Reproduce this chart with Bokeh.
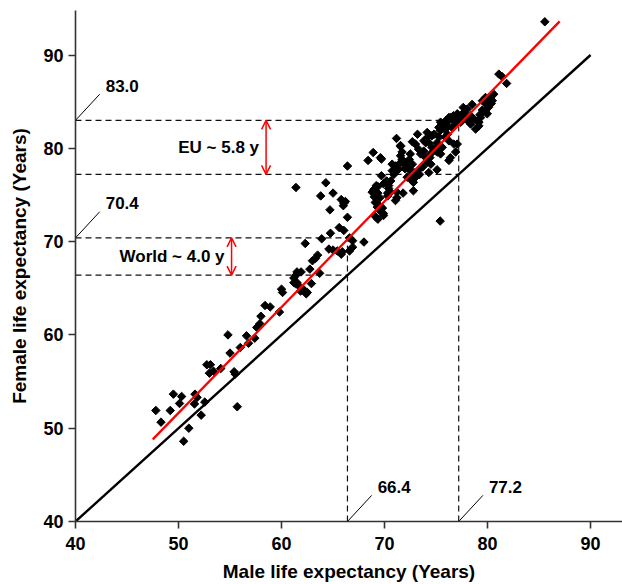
import numpy as np
from bokeh.plotting import figure
from bokeh.models import Range1d, Arrow, OpenHead, FixedTicker
from bokeh.embed import file_html
from bokeh.resources import INLINE
from bokeh.core.properties import value

# ---- data ----
male = [47.8, 48.3, 49.2, 49.5, 50.1, 50.3, 51.0, 50.5, 51.6, 51.55, 51.8, 52.2, 52.55, 52.75, 53.1,
        53.0, 53.4, 54.1, 54.8, 55.0, 55.4, 55.5, 55.7, 56.0, 56.6, 56.8, 57.4, 57.6, 57.9, 58.0,
        58.4, 58.9, 59.8, 60.0, 60.1,
        61.2, 61.5, 61.4, 61.7, 61.85, 62.2, 62.5, 62.9, 61.9, 61.5, 61.4, 61.2, 62.75, 63.5, 63.3,
        63.0, 62.3, 63.9, 64.75, 65.6, 66.4, 64.6, 65.0, 65.9, 65.8, 66.6, 66.6, 66.9, 68.0, 64.7,
        66.05, 66.2, 66.0, 65.8, 65.0, 63.8, 64.3, 61.4, 66.4, 63.7, 65.4, 66.9, 66.05, 62.4,
        68.4, 68.9, 69.7, 68.8, 69.0, 69.35, 69.1, 69.3, 69.55, 69.1, 69.35, 69.9, 69.7, 70.2, 70.4,
        70.6, 70.3, 71.06, 71.2, 71.8, 72.8, 70.74, 71.06, 71.4, 71.2, 71.7, 72.1, 72.4, 72.0, 72.5,
        72.8, 73.0, 72.8, 71.7, 71.55, 68.97, 69.2, 69.35, 69.55, 69.45, 69.8, 69.9, 70.3, 70.4, 69.9,
        70.6, 71.2, 70.9, 70.75, 71.1, 71.4, 71.95, 72.2, 72.85, 72.7, 72.2, 71.55, 72.7, 73.0, 73.3,
        73.5, 73.8, 74.0, 74.2, 73.2, 71.16, 74.14, 74.6, 75.1, 75.3, 74.8, 75.4, 75.8, 76.0, 76.15,
        76.4, 76.7, 77.06, 77.4, 77.8, 76.9, 76.6, 75.9, 75.6, 75.1, 74.4, 74.15, 73.7, 73.3, 72.7,
        72.4, 72.5, 73.4, 74.3, 75.1, 74.5, 76.25, 76.4, 76.9, 77.06, 75.4, 71.55, 69.6,
        81.1, 81.85, 80.6, 80.3, 79.97, 80.36, 80.1, 79.8, 79.97, 79.5, 79.33, 79.16, 79.0, 78.68, 78.35,
        78.5, 78.03, 77.64, 77.7, 77.22, 76.57, 76.25, 75.93, 75.6, 75.44, 75.28, 76.1, 76.57, 77.4, 78.03,
        78.35, 79.26, 79.9, 79.5, 80.46, 79.8, 74.6, 73.82, 74.3, 74.96, 74.47, 74.0, 75.44, 76.25, 76.74,
        76.1, 85.56, 78.84, 79.16, 81.4]
female = [51.9, 50.65, 51.9, 53.65, 52.65, 53.4, 50.0, 48.6, 53.65, 52.6, 53.3, 51.4, 52.8, 56.8, 56.8,
          55.9, 56.1, 56.4, 60.0, 58.05, 56.05, 55.8, 52.3, 58.65, 59.9, 59.1, 59.65, 60.8, 61.2, 62.0,
          63.15, 63.0, 62.45, 64.9, 64.55,
          65.6, 65.6, 65.45, 65.25, 64.7, 64.8, 64.55, 65.5, 66.75, 66.75, 66.4, 66.1, 67.05, 68.55, 68.2,
          67.95, 69.8, 70.3, 70.9, 71.5, 72.6, 69.2, 69.1, 68.9, 68.65, 69.0, 70.4, 70.1, 69.95, 73.4,
          74.1, 74.3, 73.85, 74.5, 75.2, 74.9, 76.3, 75.8, 78.1, 66.6, 69.0, 69.4, 71.2, 64.4,
          78.7, 79.55, 78.85, 75.3, 74.8, 75.9, 74.2, 73.7, 73.3, 72.7, 72.4, 73.0, 77.06, 76.5, 76.0,
          75.3, 74.9, 74.4, 75.3, 75.2, 75.45, 78.3, 78.1, 78.3, 77.6, 78.8, 78.5, 78.1, 77.8, 77.6,
          77.2, 76.9, 76.35, 79.6, 79.2, 75.6, 76.0, 75.2, 74.7, 73.9, 73.6, 72.8, 75.2, 75.7, 76.2,
          76.5, 74.7, 77.2, 77.6, 77.95, 77.8, 78.3, 77.95, 77.4, 76.5, 76.9, 80.3, 80.7, 80.45, 79.9,
          79.4, 79.7, 80.6, 81.2, 81.5, 81.06, 81.7, 80.1, 80.6, 81.2, 81.5, 81.9, 82.1, 82.6, 82.95,
          83.3, 83.5, 83.7, 83.3, 83.5, 82.8, 82.2, 81.2, 80.1, 79.6, 79.0, 78.5, 78.0, 77.7, 78.3,
          78.8, 79.4, 77.2, 77.4, 77.7, 78.3, 78.7, 79.0, 79.6, 80.45, 72.2, 80.2, 79.0,
          87.95, 86.95, 85.8, 85.4, 85.0, 84.8, 84.4, 84.0, 83.7, 84.1, 83.3, 82.8, 82.95, 83.1, 83.5,
          84.7, 84.2, 84.38, 83.85, 83.3, 83.1, 83.3, 82.95, 82.6, 82.8, 82.24, 82.24, 82.24, 82.8, 83.0,
          82.6, 83.6, 84.7, 85.1, 85.1, 85.45, 81.35, 80.8, 80.6, 79.9, 79.4, 79.0, 79.4, 80.8, 80.45,
          81.5, 93.56, 82.06, 82.4, 87.7]

fit_x = [47.5, 87.0]
fit_y = [48.8, 93.6]
equal_x = [40, 90]
equal_y = [40, 90]

female_eu = 83.0
male_eu = 77.2
female_world = 70.4
male_world = 66.4
eu_arrow_x = 58.5
world_arrow_x = 55.15
ticks = [40, 50, 60, 70, 80, 90]

FONT = value("Liberation Sans")

p = figure(width=622, height=584, x_range=Range1d(40, 93.1), y_range=Range1d(40, 94.77),
           output_backend="svg", toolbar_location=None,
           min_border_left=75, min_border_right=0, min_border_top=10, min_border_bottom=63)
p.grid.visible = False
p.outline_line_color = None
p.background_fill_color = "white"
p.border_fill_color = "white"

for ax in (p.xaxis[0], p.yaxis[0]):
    ax.ticker = FixedTicker(ticks=ticks)
    ax.major_tick_out = 7
    ax.major_tick_in = 0
    ax.minor_tick_out = 0
    ax.minor_tick_in = 0
    ax.axis_line_width = 1.6
    ax.axis_line_color = "#333333"
    ax.major_tick_line_width = 1.6
    ax.major_tick_line_color = "#333333"
    ax.major_label_text_font = "Liberation Sans"
    ax.major_label_text_font_style = "bold"
    ax.major_label_text_font_size = "18px"
    ax.major_label_text_color = "black"
    ax.axis_label_text_font = "Liberation Sans"
    ax.axis_label_text_font_style = "bold"
    ax.axis_label_text_font_size = "19px"
    ax.axis_label_text_color = "black"

p.xaxis.major_label_standoff = 8
p.yaxis.major_label_standoff = 5
p.xaxis.axis_label = "Male life expectancy (Years)"
p.yaxis.axis_label = "Female life expectancy (Years)"
p.xaxis.axis_label_standoff = 8
p.yaxis.axis_label_standoff = 10

# dashed guide lines
h_y = [female_eu, male_eu, female_world, male_world]
h_x1 = [male_eu, male_eu, male_world, male_world]
p.segment(x0=[40] * 4, y0=h_y, x1=h_x1, y1=h_y, line_color="#111111", line_width=1.2, line_dash="6 4")
v_x = [male_world, male_eu]
v_y1 = [female_world, female_eu]
p.segment(x0=v_x, y0=[40, 40], x1=v_x, y1=v_y1, line_color="#111111", line_width=1.2, line_dash="6 4")

# equality line and fit
p.line(equal_x, equal_y, line_color="black", line_width=2.4)
p.scatter(male, female, marker="square", size=6.0, angle=np.pi / 4, color="black")
p.line(fit_x, fit_y, line_color="red", line_width=2.3)

# leader lines and value labels
dx, dy = 2.35, 2.8
left_vals = [female_eu, female_world]
p.segment(x0=[40, 40], y0=left_vals, x1=[40 + dx] * 2, y1=[v + dy for v in left_vals],
          line_color="black", line_width=1)
p.text(x=[40 + dx + 0.58] * 2, y=[v + dy + 0.9 for v in left_vals],
       text=[f"{v:.1f}" for v in left_vals], text_align="left", text_baseline="middle",
       text_font=FONT, text_font_style="bold", text_font_size="17px", text_color="black")
bottom_vals = [male_world, male_eu]
p.segment(x0=bottom_vals, y0=[40, 40], x1=[v + dx for v in bottom_vals], y1=[40 + dy] * 2,
          line_color="black", line_width=1)
p.text(x=[v + dx + 0.58 for v in bottom_vals], y=[40 + dy + 0.9] * 2,
       text=[f"{v:.1f}" for v in bottom_vals], text_align="left", text_baseline="middle",
       text_font=FONT, text_font_style="bold", text_font_size="17px", text_color="black")

# red double arrows
for ax_x, lo, hi in [(eu_arrow_x, male_eu, female_eu), (world_arrow_x, male_world, female_world)]:
    p.add_layout(Arrow(start=OpenHead(size=9, line_color="red", line_width=1.5),
                       end=OpenHead(size=9, line_color="red", line_width=1.5),
                       x_start=ax_x, y_start=lo, x_end=ax_x, y_end=hi,
                       line_color="red", line_width=1.5))

p.text(x=[eu_arrow_x, world_arrow_x],
       y=[(female_eu + male_eu) / 2, (female_world + male_world) / 2],
       text=[f"EU ~ {female_eu - male_eu:.1f} y", f"World ~ {female_world - male_world:.1f} y"],
       text_align="right", text_baseline="middle", x_offset=-7,
       text_font=FONT, text_font_style="bold", text_font_size="17px", text_color="black")

open("out.html", "w").write(file_html(p, INLINE))
